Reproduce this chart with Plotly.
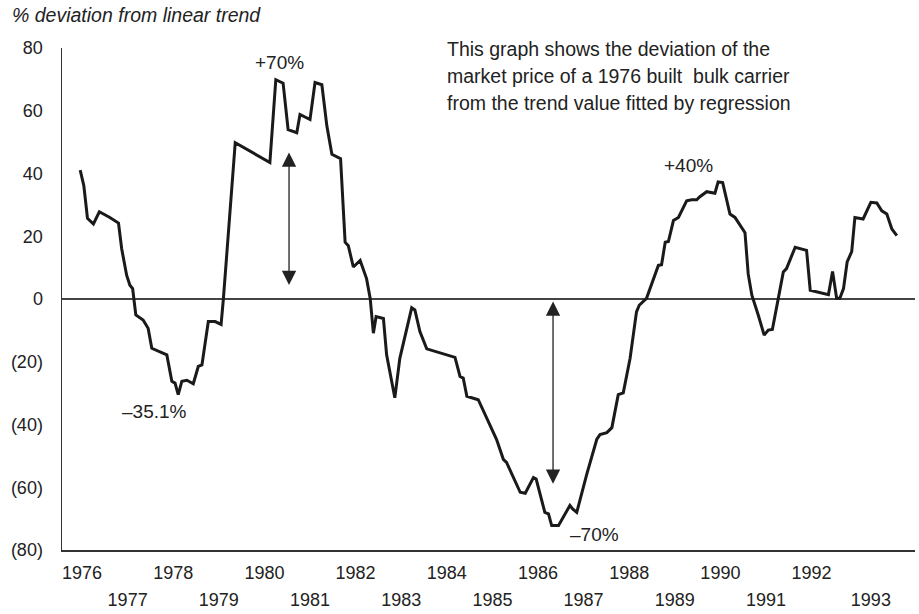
import plotly.graph_objects as go

# ---- data ----
dates = [1975.96, 1976.04, 1976.12, 1976.25, 1976.38, 1976.61, 1976.80, 1976.87, 1976.98, 1977.05,
         1977.11, 1977.18, 1977.34, 1977.45, 1977.53, 1977.86, 1977.97, 1978.04, 1978.11, 1978.19,
         1978.30, 1978.44, 1978.55, 1978.63, 1978.77, 1978.92, 1979.05, 1979.10, 1979.36, 1980.12,
         1980.25, 1980.41, 1980.52, 1980.71, 1980.78, 1981.00, 1981.11, 1981.26, 1981.37, 1981.48,
         1981.67, 1981.77, 1981.84, 1981.95, 1982.10, 1982.24, 1982.32, 1982.39, 1982.45, 1982.61,
         1982.68, 1982.86, 1982.97, 1983.23, 1983.30, 1983.41, 1983.56, 1984.18, 1984.29, 1984.36,
         1984.44, 1984.69, 1985.09, 1985.24, 1985.31, 1985.61, 1985.72, 1985.90, 1985.96, 1986.15,
         1986.23, 1986.30, 1986.45, 1986.70, 1986.76, 1986.85, 1987.07, 1987.29, 1987.36, 1987.51,
         1987.62, 1987.76, 1987.87, 1988.02, 1988.16, 1988.22, 1988.38, 1988.64, 1988.71, 1988.79,
         1988.86, 1988.97, 1989.08, 1989.26, 1989.37, 1989.48, 1989.55, 1989.70, 1989.88, 1989.95,
         1990.05, 1990.21, 1990.32, 1990.54, 1990.61, 1990.69, 1990.83, 1990.96, 1991.05, 1991.14,
         1991.27, 1991.38, 1991.45, 1991.64, 1991.89, 1991.97, 1992.37, 1992.46, 1992.55, 1992.62,
         1992.70, 1992.78, 1992.88, 1992.95, 1993.13, 1993.30, 1993.43, 1993.54, 1993.65, 1993.76,
         1993.87]
deviation = [41.1, 36.1, 25.7, 23.9, 27.8, 26.0, 24.2, 16.0, 7.5, 4.4,
             3.3, -5.1, -6.7, -9.3, -15.7, -17.8, -26.2, -26.8, -30.5, -26.2,
             -25.9, -27.0, -21.5, -21.0, -7.2, -7.2, -8.1, 0.0, 49.8, 43.5,
             69.9, 68.8, 54.0, 53.0, 58.8, 57.2, 69.0, 68.3, 55.1, 46.1,
             44.7, 18.1, 17.0, 10.2, 12.3, 6.5, 0.2, -10.9, -5.6, -6.2,
             -17.8, -31.5, -18.9, -2.8, -3.5, -10.4, -15.9, -18.6, -24.7, -25.2,
             -31.0, -32.1, -44.7, -51.1, -52.1, -61.6, -61.9, -56.9, -57.4, -68.0,
             -68.5, -72.2, -72.2, -65.8, -66.9, -68.0, -55.8, -44.7, -43.2, -42.6,
             -41.0, -30.5, -29.9, -18.9, -4.1, -2.0, 0.2, 10.7, 10.9, 18.1,
             18.3, 25.0, 26.0, 31.3, 31.6, 31.6, 32.6, 34.2, 33.7, 37.3,
             37.1, 27.1, 26.0, 21.1, 8.0, 1.2, -5.1, -11.5, -9.9, -9.7,
             0.2, 8.6, 9.7, 16.5, 15.5, 2.8, 1.4, 8.8, 0.2, 0.2,
             3.3, 11.8, 15.1, 26.0, 25.5, 30.8, 30.6, 28.1, 27.1, 22.3,
             20.2]

y_tickvals = [80, 60, 40, 20, 0, -20, -40, -60, -80]
y_ticktext = ["80", "60", "40", "20", "0", "(20)", "(40)", "(60)", "(80)"]
even_tickvals = [1976, 1978, 1980, 1982, 1984, 1986, 1988, 1990, 1992]
even_ticktext = ["1976", "1978", "1980", "1982", "1984", "1986", "1988", "1990", "1992"]
odd_tickvals = [1977, 1979, 1981, 1983, 1985, 1987, 1989, 1991, 1993.3]
odd_ticktext = ["1977", "1979", "1981", "1983", "1985", "1987", "1989", "1991", "1993"]

note_lines = ["This graph shows the deviation of the",
              "market price of a 1976 built  bulk carrier",
              "from the trend value fitted by regression"]
note_y = [79.7, 71.2, 62.6]
peak_labels = ["+70%", "\u201335.1%", "+40%", "\u201370%"]
peak_x = [1980.32, 1977.60, 1989.29, 1987.25]
peak_y = [75.3, -36.0, 42.6, -74.9]
arrows_x = [1980.54, 1986.33]
arrows_top = [46.7, -0.8]
arrows_bottom = [4.0, -59.4]

FONT = "Liberation Sans, Arial, Helvetica, sans-serif"
TXT = "#222222"
XR = [1975.561, 1994.268]

fig = go.Figure()
fig.add_trace(go.Scatter(x=dates, y=deviation, mode="lines",
                         line=dict(color="#1a1a1a", width=3), showlegend=False,
                         hoverinfo="skip"))
# invisible helper trace so the second (odd-year) label axis is drawn
fig.add_trace(go.Scatter(x=[dates[0]], y=[deviation[0]], xaxis="x2", mode="markers",
                         marker=dict(opacity=0), showlegend=False, hoverinfo="skip"))

fig.update_layout(
    width=919, height=614,
    margin=dict(l=62, r=4, t=48, b=61),
    paper_bgcolor="white", plot_bgcolor="white",
    font=dict(family=FONT, size=18, color=TXT),
    xaxis=dict(range=XR, showgrid=False, zeroline=False,
               showline=True, linecolor="#333", linewidth=1.5,
               tickvals=even_tickvals, ticktext=even_ticktext, ticks="",
               ticklabelstandoff=6,
               tickfont=dict(size=18, color=TXT, family=FONT)),
    xaxis2=dict(range=XR, overlaying="x", anchor="y", side="bottom", matches="x",
                showgrid=False, zeroline=False, showline=False,
                tickvals=odd_tickvals, ticktext=odd_ticktext, ticks="",
                ticklabelstandoff=37,
                tickfont=dict(size=18, color=TXT, family=FONT)),
    yaxis=dict(range=[-80, 80], showgrid=False, zeroline=True,
               zerolinecolor="#444", zerolinewidth=1.5,
               showline=True, linecolor="#333", linewidth=1.5,
               tickvals=y_tickvals, ticktext=y_ticktext, ticks="",
               ticklabelstandoff=14,
               tickfont=dict(size=18, color=TXT, family=FONT)),
)

annotations = []
annotations.append(dict(text="<i>% deviation from linear trend</i>", xref="paper", yref="paper",
                        x=-0.061, y=1.065, xanchor="left", yanchor="middle", showarrow=False,
                        font=dict(size=19.5, color=TXT, family=FONT)))
for i, line in enumerate(note_lines):
    annotations.append(dict(text=line, xref="x", yref="y", x=1983.96, y=note_y[i],
                            xanchor="left", yanchor="middle", showarrow=False,
                            font=dict(size=19.5, color=TXT, family=FONT)))
for t, xx, yy in zip(peak_labels, peak_x, peak_y):
    annotations.append(dict(text=t, xref="x", yref="y", x=xx, y=yy, showarrow=False,
                            xanchor="center", yanchor="middle",
                            font=dict(size=19, color=TXT, family=FONT)))
for xx, top, bot in zip(arrows_x, arrows_top, arrows_bottom):
    annotations.append(dict(text="", xref="x", yref="y", x=xx, y=top,
                            axref="x", ayref="y", ax=xx, ay=bot,
                            showarrow=True, arrowhead=2, startarrowhead=2,
                            arrowside="end+start", arrowsize=2.2, startarrowsize=2.2,
                            arrowwidth=1.3, arrowcolor="#222"))
fig.update_layout(annotations=annotations)

# remove the browser's default 8px body margin so the figure fills the window exactly
fig.write_html("out.html",
               config={"displayModeBar": False, "staticPlot": True},
               post_script="document.body.style.margin='0';document.body.style.overflow='hidden';")
